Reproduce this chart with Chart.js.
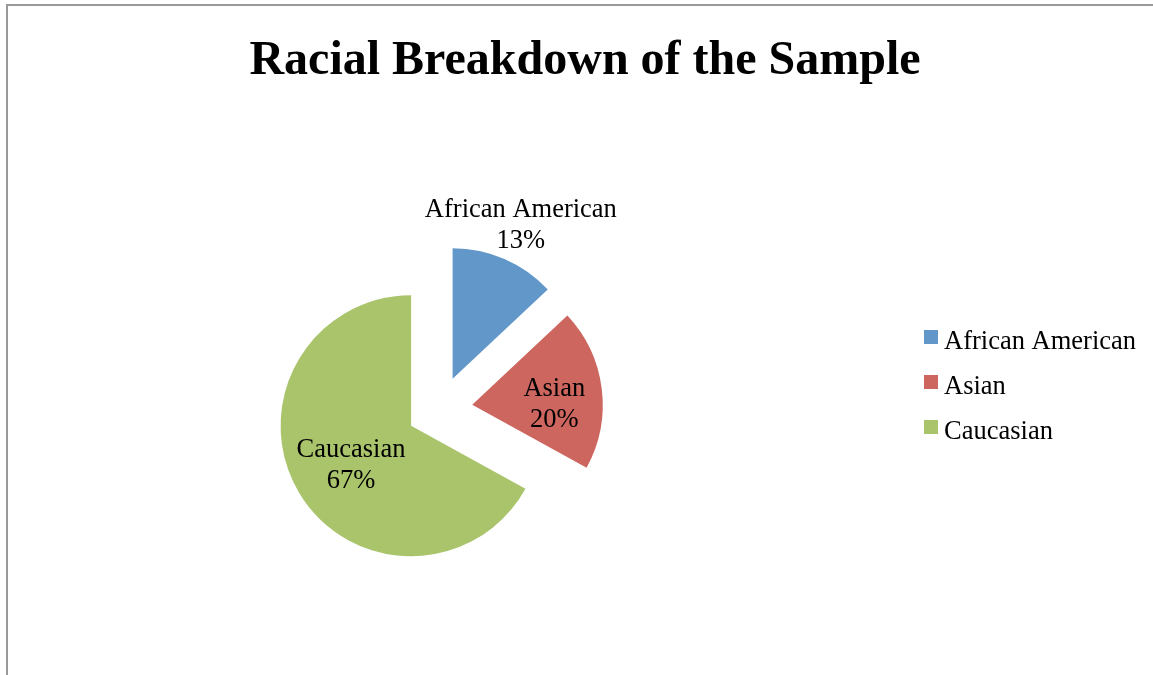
<!DOCTYPE html>
<html>
<head>
<meta charset="utf-8">
<script src="https://cdn.jsdelivr.net/npm/chart.js@4/dist/chart.umd.min.js"></script>
<style>
  html, body { margin: 0; padding: 0; background: #ffffff; }
  #wrap { position: relative; width: 1153px; height: 675px; }
  canvas { display: block; }
</style>
</head>
<body>
<div id="wrap"><canvas id="c" width="1153" height="675"></canvas></div>
<script>
// ---- data ----
const title = 'Racial Breakdown of the Sample';
const categories = ['African American', 'Asian', 'Caucasian'];
const percentValues = [13, 20, 67];
const sliceColors = ['#6197C9', '#CD665F', '#AAC46C'];
// label placement: fraction of radius from slice tip along mid-angle, plus small angle shift
const labelRadius = [1.317, 0.63, 0.535];
const labelAngleShift = [0, 0.067, 0];

const EXPLODE = 33;
const FONT = '"Liberation Serif", "Times New Roman", serif';

const explodePlugin = {
  id: 'explode',
  beforeDatasetDraw(chart, args) {
    const ctx = chart.ctx;
    args.meta.data.forEach((arc) => {
      const mid = (arc.startAngle + arc.endAngle) / 2;
      ctx.save();
      ctx.translate(Math.cos(mid) * EXPLODE, Math.sin(mid) * EXPLODE);
      arc.draw(ctx, chart.chartArea);
      ctx.restore();
    });
    return false;
  }
};

const decorPlugin = {
  id: 'decor',
  beforeDraw(chart) {
    const ctx = chart.ctx;
    ctx.save();
    ctx.fillStyle = '#ffffff';
    ctx.fillRect(0, 0, chart.width, chart.height);
    ctx.strokeStyle = '#999999';
    ctx.lineWidth = 2;
    ctx.beginPath();
    ctx.moveTo(7, chart.height);
    ctx.lineTo(7, 5);
    ctx.lineTo(chart.width, 5);
    ctx.stroke();
    ctx.restore();
  },
  afterDraw(chart) {
    const ctx = chart.ctx;
    ctx.save();
    // title
    ctx.fillStyle = '#000000';
    ctx.textAlign = 'center';
    ctx.textBaseline = 'alphabetic';
    ctx.font = 'bold 48px ' + FONT;
    ctx.fillText(title, 585, 74);

    // data labels
    ctx.font = '26.5px ' + FONT;
    const meta = chart.getDatasetMeta(0);
    meta.data.forEach((arc, i) => {
      const mid = (arc.startAngle + arc.endAngle) / 2;
      const la = mid + labelAngleShift[i];
      const tipX = arc.x + Math.cos(mid) * EXPLODE;
      const tipY = arc.y + Math.sin(mid) * EXPLODE;
      const d = arc.outerRadius * labelRadius[i];
      const x = tipX + Math.cos(la) * d;
      const y = tipY + Math.sin(la) * d;
      ctx.fillText(categories[i], x, y - 4);
      ctx.fillText(percentValues[i] + '%', x, y + 27);
    });

    // legend
    ctx.textAlign = 'left';
    categories.forEach((c, i) => {
      const base = 348.5 + i * 45;
      ctx.fillStyle = sliceColors[i];
      ctx.fillRect(924, base - 18.5, 14, 14);
      ctx.fillStyle = '#000000';
      ctx.fillText(c, 944, base);
    });
    ctx.restore();
  }
};

new Chart(document.getElementById('c'), {
  type: 'pie',
  data: {
    labels: categories,
    datasets: [{
      data: percentValues,
      backgroundColor: sliceColors,
      borderWidth: 0
    }]
  },
  options: {
    responsive: false,
    animation: false,
    layout: { padding: { top: 278.5, bottom: 135.5, left: 309, right: 583 } },
    plugins: {
      legend: { display: false },
      title: { display: false },
      tooltip: { enabled: false }
    }
  },
  plugins: [explodePlugin, decorPlugin]
});
</script>
</body>
</html>
